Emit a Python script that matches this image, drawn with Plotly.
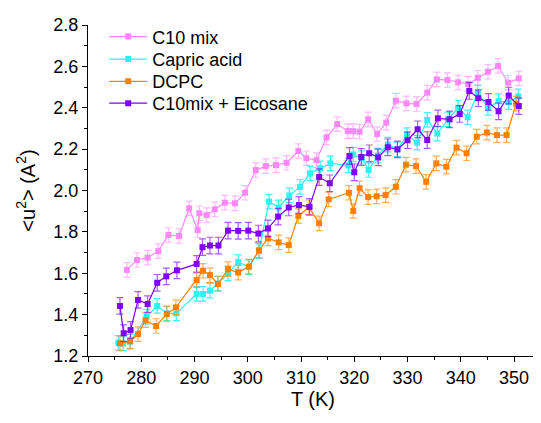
import plotly.graph_objects as go

# ---- data ----
T_c10 = [277.3, 279.2, 281.2, 283.2, 285.1, 287.1, 289.0, 290.6, 290.9, 292.3, 293.8, 295.7, 297.6, 299.5,
         301.5, 303.4, 305.3, 307.3, 309.5, 311.0, 312.9, 314.8, 316.8, 318.8, 319.8, 321.0, 322.6, 324.3,
         326.0, 327.8, 329.8, 331.7, 333.7, 335.5, 337.5, 339.5, 341.4, 343.2, 345.1, 347.0, 348.9, 350.9]
u2_c10 = [1.616, 1.664, 1.675, 1.707, 1.785, 1.780, 1.914, 1.809, 1.890, 1.881, 1.909, 1.941, 1.938, 1.989,
          2.099, 2.118, 2.123, 2.134, 2.191, 2.156, 2.147, 2.257, 2.321, 2.287, 2.287, 2.284, 2.344, 2.273,
          2.328, 2.434, 2.421, 2.418, 2.473, 2.537, 2.534, 2.523, 2.515, 2.545, 2.574, 2.602, 2.521, 2.542]

T_capric = [275.7, 276.6, 277.9, 281.0, 283.0, 284.8, 286.6, 290.4, 291.6, 292.9, 294.4, 296.3, 298.2, 300.2,
            302.1, 304.0, 305.8, 307.8, 309.8, 311.7, 313.6, 315.5, 318.9, 319.8, 321.4, 322.7, 324.4, 326.3,
            328.1, 329.9, 331.8, 333.7, 335.6, 337.6, 339.5, 341.3, 343.2, 345.1, 347.1, 349.0, 350.8]
u2_capric = [1.264, 1.261, 1.269, 1.390, 1.442, 1.406, 1.406, 1.500, 1.500, 1.516, 1.551, 1.599, 1.654, 1.630,
             1.707, 1.946, 1.918, 1.976, 2.017, 2.083, 2.107, 2.131, 2.121, 2.174, 2.157, 2.099, 2.169, 2.222,
             2.199, 2.268, 2.231, 2.341, 2.275, 2.344, 2.400, 2.354, 2.473, 2.399, 2.432, 2.427, 2.455]

T_dcpc = [276.0, 277.9, 279.4, 280.8, 282.8, 284.8, 286.5, 290.4, 291.6, 292.9, 294.4, 296.3, 298.2, 300.2,
          302.1, 303.8, 305.8, 307.7, 309.5, 311.5, 313.4, 315.2, 319.0, 319.8, 321.0, 322.6, 324.2, 325.9,
          327.8, 329.7, 331.6, 333.5, 335.4, 337.3, 339.2, 341.1, 343.0, 344.9, 346.8, 348.6, 350.4]
u2_dcpc = [1.261, 1.272, 1.306, 1.373, 1.345, 1.403, 1.435, 1.567, 1.612, 1.591, 1.548, 1.620, 1.603, 1.632,
           1.711, 1.769, 1.749, 1.736, 1.877, 1.919, 1.841, 1.957, 1.989, 1.901, 2.011, 1.968, 1.972, 1.978,
           2.018, 2.125, 2.118, 2.042, 2.131, 2.115, 2.207, 2.180, 2.260, 2.280, 2.268, 2.268, 2.420]

T_eico = [276.0, 276.7, 278.0, 279.4, 281.2, 283.0, 284.7, 286.7, 290.4, 291.5, 292.9, 294.5, 296.3, 298.2,
          300.1, 302.0, 303.8, 305.7, 307.7, 309.6, 311.6, 313.4, 315.4, 319.1, 320.0, 321.3, 322.8, 324.5,
          326.3, 328.1, 330.0, 331.9, 333.7, 335.7, 337.9, 339.8, 341.6, 343.3, 345.2, 347.1, 349.0, 350.9]
u2_eico = [1.442, 1.310, 1.326, 1.471, 1.451, 1.554, 1.585, 1.614, 1.645, 1.726, 1.734, 1.734, 1.806, 1.805,
           1.806, 1.792, 1.817, 1.874, 1.918, 1.930, 1.921, 2.065, 2.035, 2.167, 2.088, 2.162, 2.180, 2.160,
           2.209, 2.199, 2.243, 2.296, 2.244, 2.349, 2.344, 2.370, 2.481, 2.446, 2.428, 2.383, 2.459, 2.408]

err_c10 = 0.035
err_capric = 0.035
err_dcpc = 0.035
err_eico = 0.04

series = [
    ("C10 mix", T_c10, u2_c10, err_c10, "#FF88F8", "rgba(255,136,248,0.6)"),
    ("Capric acid", T_capric, u2_capric, err_capric, "#2CF4F4", "rgba(0,240,240,0.75)"),
    ("DCPC", T_dcpc, u2_dcpc, err_dcpc, "#FF8000", "rgba(255,140,20,0.7)"),
    ("C10mix + Eicosane", T_eico, u2_eico, err_eico, "#7F00FF", "rgba(127,0,255,0.65)"),
]

legend_ids = ["legend", "legend2", "legend3", "legend4"]
# vertical centres (paper fraction) of the four legend rows
legend_rows = [0.964, 0.896, 0.829, 0.763]

fig = go.Figure()
for (name, x, y, e, col, ecol), lid in zip(series, legend_ids):
    fig.add_trace(go.Scatter(
        x=x, y=y, name=name, mode="lines+markers", legend=lid,
        line=dict(color=col, width=1.2),
        marker=dict(symbol="square", size=6, color=col),
        error_y=dict(type="constant", value=e, color=ecol, thickness=1.2, width=3.5),
    ))

font_family = "Liberation Sans, Arial, sans-serif"
legend_style = dict(x=0.036, xanchor="left", yanchor="middle",
                    bgcolor="rgba(0,0,0,0)", font=dict(size=18), itemwidth=38)

layout_legends = {}
for lid, ypos in zip(legend_ids, legend_rows):
    layout_legends[lid] = dict(legend_style, y=ypos)

# the page body has an 8px margin, so the figure is 8px smaller than the window
fig.update_layout(
    width=533, height=415,
    margin=dict(l=80, r=3, t=17, b=67),
    paper_bgcolor="white", plot_bgcolor="white",
    font=dict(family=font_family, size=18, color="black"),
    showlegend=True,
    xaxis=dict(
        range=[270, 354.5], showline=True, linecolor="black", linewidth=1.3,
        ticks="outside", ticklen=5, tickwidth=1.3, tickcolor="black",
        dtick=10, tick0=270, showgrid=False, zeroline=False,
        minor=dict(ticks="outside", ticklen=3, dtick=5, tickcolor="black", tickwidth=1.3),
        title=dict(text="T (K)", font=dict(size=20), standoff=2),
        tickfont=dict(size=18),
        automargin=False,
    ),
    yaxis=dict(
        range=[1.2, 2.8], showline=True, linecolor="black", linewidth=1.3,
        ticks="outside", ticklen=5, tickwidth=1.3, tickcolor="black",
        dtick=0.2, tick0=1.2, tickformat=".1f", showgrid=False, zeroline=False,
        minor=dict(ticks="outside", ticklen=3, dtick=0.1, tickcolor="black", tickwidth=1.3),
        title=dict(text="&lt;u<sup>2</sup>&gt; (A<sup>2</sup>)", font=dict(size=20), standoff=12),
        tickfont=dict(size=18),
        automargin=False,
    ),
    **layout_legends,
)

fig.write_html("out.html")
